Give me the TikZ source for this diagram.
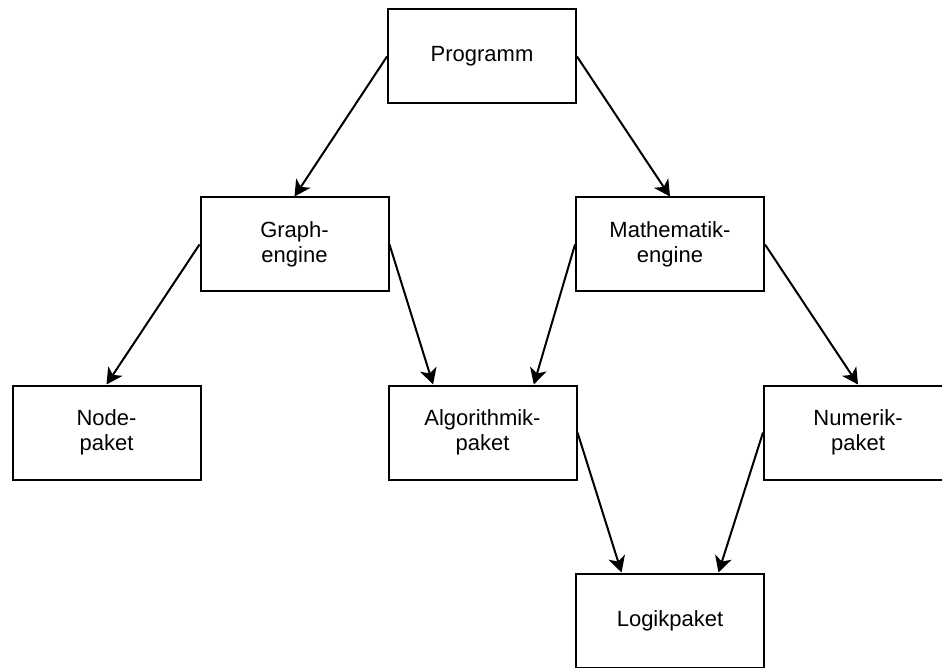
\documentclass[tikz,border=0pt]{standalone}
\usepackage{fontspec}
\setmainfont{Liberation Sans}
\usetikzlibrary{arrows.meta,calc}
\begin{document}
\begin{tikzpicture}[x=1pt,y=-1pt,
  box/.style={draw,line width=2pt,minimum width=188pt,minimum height=94pt,
    inner sep=0pt,align=center,font=\fontsize{22}{24.5}\selectfont},
  link/.style={line width=2pt,-{Stealth[length=16pt,width=17pt,inset=4.5pt]}}]
\useasboundingbox (0,0) rectangle (942,668);
\clip (0,0) rectangle (942,668);
\node[box] (prog)  at (482,56.5)   {Programm};
\node[box] (graph) at (294.5,244.5) {Graph-\\engine};
\node[box] (math)  at (670,244.5)  {Mathematik-\\engine};
\node[box] (nodep) at (106.5,432.5) {Node-\\paket};
\node[box] (alg)   at (482.5,432.5) {Algorithmik-\\paket};
\node[box] (num)   at (858,432.5)  {Numerik-\\paket};
\node[box] (logik) at (670,620.5)  {Logikpaket};

\draw[link] (prog.west) -- (graph.north);
\draw[link] (prog.east) -- (math.north);
\draw[link] (graph.west) -- (nodep.north);
\draw[link] (graph.east) -- ($(alg.north west)!0.24!(alg.north east)$);
\draw[link] (math.west) -- ($(alg.north west)!0.77!(alg.north east)$);
\draw[link] (math.east) -- (num.north);
\draw[link] (alg.east) -- ($(logik.north west)!0.245!(logik.north east)$);
\draw[link] (num.west) -- ($(logik.north west)!0.755!(logik.north east)$);
\end{tikzpicture}
\end{document}
